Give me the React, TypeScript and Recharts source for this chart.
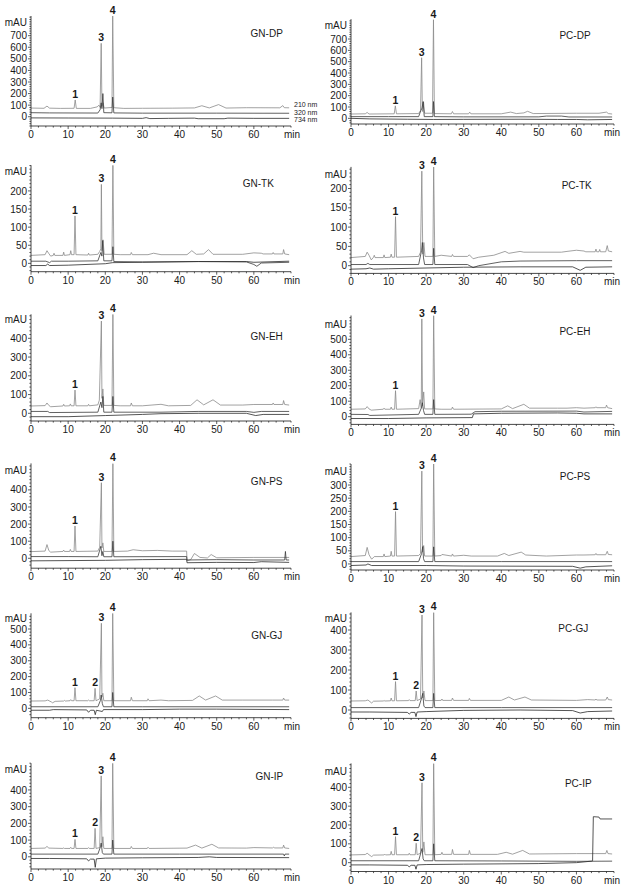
import React from 'react';
import { LineChart, Line, XAxis, YAxis, ReferenceDot } from 'recharts';

type Pt = [number, number];
type Peak = [string, number, number];

// ---------- GN-DP ----------
const gnDp210: Pt[] = [[0,75],[3.5,73],[4.3,92],[5,74],[8,72],[11.6,73],[11.9,145],[12.2,72],[16,72],[17.8,85],[18.3,100],[18.6,80],[18.9,634],[19.1,90],[19.4,120],[19.7,75],[21.8,80],[22.0,870],[22.3,78],[25,72],[30,73],[38,74],[44,76],[46,95],[48,76],[50.5,105],[52.5,75],[58,78],[67,77],[67.8,96],[68.2,78],[69.5,77]];
const gnDp320: Pt[] = [[0,35],[5,33],[18,32],[18.6,60],[18.9,120],[19.1,70],[19.35,200],[19.6,35],[21.8,34],[22.0,170],[22.3,33],[30,31],[50,31],[69.5,30]];
const gnDp734: Pt[] = [[0,-10],[10,-11],[22,-12],[30,-14],[31,-8],[32,-16],[37,-14],[44,-12],[45,-17],[52,-17],[53,-12],[60,-14],[69.5,-14]];
const gnDpPeaks: Peak[] = [['1',11.9,145],['3',18.9,634],['4',22.0,870]];
const gnDpYTicks = [0,100,200,300,400,500,600,700];

// ---------- PC-DP ----------
const pcDp210: Pt[] = [[0,38],[3.8,40],[4.3,52],[4.8,38],[11.5,40],[11.8,110],[12.1,40],[18,42],[18.5,70],[18.8,535],[19.0,60],[19.3,145],[19.6,45],[21.7,45],[21.95,871],[22.2,42],[26.7,40],[27,60],[27.3,40],[31.3,40],[31.6,55],[31.9,40],[40,40],[42.5,55],[44,42],[46,48],[47,62],[48.5,42],[60,45],[66,45],[68,55],[68.5,42],[69.5,38]];
const pcDp320: Pt[] = [[0,15],[10,15],[18,15],[18.6,70],[18.9,90],[19.2,148],[19.5,15],[21.8,15],[21.95,148],[22.2,15],[30,13],[50,13],[52,20],[56,20],[58,12],[69.5,12]];
const pcDp734: Pt[] = [[0,0],[5,-5],[15,-8],[22,-10],[30,-9],[45,-8],[55,-10],[60,-10],[63,-13],[69.5,-10]];
const pcDpPeaks: Peak[] = [['1',11.8,110],['3',18.8,535],['4',21.95,871]];
const pcDpYTicks = [0,100,200,300,400,500,600,700];

// ---------- GN-TK ----------
const gnTk210: Pt[] = [[0,22],[3.8,24],[4.3,35],[4.8,27],[5.3,20],[6,22],[6.2,28],[6.4,22],[8.6,22],[8.8,31],[9,22],[10.5,24],[10.7,35],[10.9,24],[11.6,24],[11.85,131],[12.1,24],[15.3,23],[15.5,28],[15.7,23],[18,25],[18.5,33],[18.8,40],[18.95,218],[19.1,35],[19.4,65],[19.7,25],[21.8,25],[22.05,271],[22.3,25],[24,24],[26.8,24],[27,30],[27.3,24],[31.5,24],[33,28],[35,24],[42,24],[43.3,35],[44.5,25],[46.5,26],[47.8,38],[49,25],[57,25],[60,29],[62,28],[62.5,26],[65,26],[65.2,30],[65.4,26],[67.8,26],[68,38],[68.3,26],[69.5,24]];
const gnTk320: Pt[] = [[0,6],[4,6],[5,2],[5.5,6],[10,6],[18,7],[18.8,30],[19.1,20],[19.3,63],[19.6,7],[21.8,7],[22.05,46],[22.3,5],[30,4],[45,5],[58,4],[60,-3],[60.8,-8],[62,1],[69.5,3]];
const gnTk734: Pt[] = [[0,-6],[4,-6],[4.5,-2],[5,-6],[10,-5],[20,-1],[22,2],[30,3],[45,5],[58,5],[60,3],[69.5,6]];
const gnTkPeaks: Peak[] = [['1',11.85,131],['3',18.95,218],['4',22.05,271]];
const gnTkYTicks = [0,50,100,150,200];

// ---------- PC-TK ----------
const pcTk210: Pt[] = [[0,21],[3.8,24],[4.3,35],[4.8,27],[5.4,15],[6,22],[6.2,27],[6.4,21],[8.6,21],[8.8,28],[9,21],[10.5,22],[10.7,30],[10.9,22],[11.6,22],[11.85,127],[12.1,22],[18,24],[18.5,35],[18.85,245],[19.1,30],[19.4,60],[19.7,24],[21.8,24],[22.0,256],[22.3,24],[24,27],[26.8,24],[27,29],[27.3,24],[31,24],[31.5,28],[32.5,18],[34,22],[38,27],[41,37],[42,32],[45,37],[46,35],[56,35],[57.5,37],[60,40],[62,38],[62.5,36],[65,36],[65.2,43],[65.4,36],[66,36],[66.2,42],[66.4,36],[67.8,36],[68.2,52],[68.5,38],[69.5,36]];
const pcTk320: Pt[] = [[0,3],[4,3],[4.5,6],[5,3],[18,3],[18.8,40],[19.0,60],[19.3,20],[19.6,3],[21.8,3],[22.0,45],[22.3,3],[31,3],[32.5,-5],[34,0],[40,10],[45,12],[60,13],[69.5,13]];
const pcTk734: Pt[] = [[0,-9],[4,-8],[5,-6],[6,-9],[10,-8],[30,-4],[45,-3],[59,-3],[61,-12],[62.5,-4],[69.5,-3]];
const pcTkPeaks: Peak[] = [['1',11.85,127],['3',18.85,245],['4',22.0,256]];
const pcTkYTicks = [0,50,100,150,200];

// ---------- GN-EH ----------
const gnEh210: Pt[] = [[0,39],[3.8,41],[4.3,55],[4.8,42],[5.3,35],[8.6,39],[8.8,48],[9,39],[10.4,40],[10.6,50],[10.8,40],[11.6,40],[11.85,124],[12.1,40],[15.3,40],[15.5,48],[15.7,40],[18,45],[18.4,70],[18.95,492],[19.1,80],[19.35,130],[19.6,42],[21.8,42],[22.05,528],[22.3,42],[24,40],[26.8,40],[27,55],[27.3,40],[30,40],[35,48],[37,40],[43,42],[44.7,72],[46.5,45],[49,72],[51,44],[57,44],[60,47],[65,47],[65.2,55],[65.4,47],[67.8,47],[68,68],[68.3,47],[69.5,44]];
const gnEh320: Pt[] = [[0,10],[4.5,10],[5,4],[18,6],[18.8,60],[19.1,30],[19.35,90],[19.6,6],[21.8,6],[22.05,90],[22.3,6],[35,6],[45,10],[58,10],[60,5],[62,10],[69.5,10]];
const gnEh734: Pt[] = [[0,-18],[10,-18],[20,-12],[30,-6],[35,-2],[45,0],[58,0],[60.5,-12],[62.5,-6],[69.5,-6]];
const gnEhPeaks: Peak[] = [['1',11.85,124],['3',18.95,492],['4',22.05,528]];
const gnEhYTicks = [0,100,200,300,400];

// ---------- PC-EH ----------
const pcEh210: Pt[] = [[0,48],[3.8,50],[4.3,65],[4.8,50],[5.4,42],[8.6,48],[8.8,55],[9,48],[10.5,48],[10.7,62],[10.9,48],[11.6,48],[11.85,168],[12.1,48],[18,52],[18.4,110],[18.7,55],[18.85,632],[19.05,70],[19.35,160],[19.6,50],[21.8,50],[22.0,654],[22.3,50],[24,48],[26.8,48],[27,62],[27.3,48],[40,50],[41.7,70],[43,52],[46,80],[47.5,55],[55,55],[57.5,55],[60,58],[62,55],[65,58],[65.2,64],[65.4,58],[67.8,58],[68,75],[68.3,58],[69.5,52]];
const pcEh320: Pt[] = [[0,15],[4.5,14],[5,8],[18,15],[18.8,60],[19.0,90],[19.3,40],[19.6,15],[21.8,15],[22.0,110],[22.3,15],[32,16],[33,32],[40,35],[60,36],[62,30],[69.5,34]];
const pcEh734: Pt[] = [[0,-12],[10,-12],[20,-8],[32.3,-6],[32.6,18],[40,22],[55,24],[60,22],[62,18],[69.5,18]];
const pcEhPeaks: Peak[] = [['1',11.85,168],['3',18.85,632],['4',22.0,654]];
const pcEhYTicks = [0,100,200,300,400,500];

// ---------- GN-PS ----------
const gnPs210: Pt[] = [[0,39],[3.8,42],[4.3,80],[4.8,45],[5.3,36],[8.6,40],[8.8,48],[9,40],[10.4,40],[10.6,52],[10.8,40],[11.6,40],[11.85,189],[12.1,40],[18,42],[18.5,65],[18.95,442],[19.1,60],[19.35,90],[19.6,40],[21.8,40],[22.05,555],[22.3,40],[26,42],[27.5,50],[30,44],[34,46],[38,42],[41.9,42],[42,-15],[43,-8],[44,28],[45.5,5],[47.5,2],[48.5,22],[50,3],[60,5],[69.5,5]];
const gnPs320: Pt[] = [[0,10],[10,10],[18,9],[18.8,70],[19.1,15],[19.35,40],[19.6,9],[21.8,9],[22.05,100],[22.3,9],[41.9,10],[42,-10],[50,-8],[60,-10],[68.3,-10],[68.5,40],[68.7,-10],[69.5,-10]];
const gnPs734: Pt[] = [[0,-15],[20,-12],[30,-8],[41.9,-6],[42,-26],[50,-24],[60,-25],[62,-20],[69.5,-24]];
const gnPsPeaks: Peak[] = [['1',11.85,189],['3',18.95,442],['4',22.05,555]];
const gnPsYTicks = [0,100,200,300,400];

// ---------- PC-PS ----------
const pcPs210: Pt[] = [[0,28],[3.8,32],[4.3,63],[4.8,35],[5.5,18],[6.2,28],[8.6,28],[8.8,38],[9,28],[10.5,30],[10.7,48],[10.9,30],[11.6,30],[11.85,199],[12.1,30],[18,32],[18.5,40],[18.85,353],[19.05,45],[19.35,70],[19.6,30],[21.8,30],[22.0,380],[22.3,30],[24,32],[24.2,36],[26.8,30],[27,38],[27.3,30],[30,33],[32,30],[39,30],[40.8,40],[42,32],[45.3,45],[46.5,34],[52,30],[60,34],[62,34],[65,35],[65.2,40],[65.4,35],[67.8,35],[68.2,48],[68.5,36],[69.5,35]];
const pcPs320: Pt[] = [[0,9],[18,9],[18.8,40],[19.1,66],[19.3,20],[19.6,9],[21.8,9],[22.0,65],[22.3,9],[40,9],[69.5,9]];
const pcPs734: Pt[] = [[0,-6],[4,-4],[4.5,0],[5.5,-6],[20,-6],[30,-8],[59,-9],[61,-16],[62.5,-11],[69.5,-7]];
const pcPsPeaks: Peak[] = [['1',11.85,199],['3',18.85,353],['4',22.0,380]];
const pcPsYTicks = [0,50,100,150,200,250,300];

// ---------- GN-GJ ----------
const gnGj210: Pt[] = [[0,46],[3.8,47],[4.5,52],[5.5,40],[5.8,35],[6.5,44],[8.8,46],[9,50],[9.2,46],[10.5,48],[10.7,55],[10.9,48],[11.6,48],[11.85,130],[12.1,48],[15.3,48],[15.5,52],[15.7,48],[17.0,48],[17.25,126],[17.5,48],[18.5,60],[18.95,536],[19.1,70],[19.35,95],[19.6,48],[21.8,48],[22.0,599],[22.3,48],[26.8,48],[27,70],[27.3,48],[31.3,48],[31.5,60],[31.8,48],[35,52],[37,48],[43.5,50],[45.3,78],[47,52],[49.7,78],[51.5,52],[57,52],[65,52],[67.8,52],[68,65],[68.3,52],[69.5,52]];
const gnGj320: Pt[] = [[0,10],[18,10],[18.7,50],[18.9,84],[19.2,30],[19.5,10],[21.8,10],[22.0,100],[22.3,10],[30,10],[69.5,10]];
const gnGj734: Pt[] = [[0,-12],[5,-12],[6,-8],[15,-10],[15.5,-25],[16,-12],[17,-12],[17.3,-40],[17.6,-12],[19.2,-20],[19.5,-8],[30,-8],[40,-5],[50,-5],[69.5,-8]];
const gnGjPeaks: Peak[] = [['1',11.85,130],['2',17.25,126],['3',18.95,536],['4',22.0,599]];
const gnGjYTicks = [0,100,200,300,400,500];

// ---------- PC-GJ ----------
const pcGj210: Pt[] = [[0,45],[3.8,46],[4.5,50],[5.5,35],[6,44],[8.6,45],[8.8,48],[9,45],[10.5,46],[10.7,60],[10.9,46],[11.6,46],[11.85,142],[12.1,46],[15.3,47],[15.5,52],[15.7,47],[17.1,47],[17.35,95],[17.6,47],[18.5,55],[18.9,475],[19.1,60],[19.4,95],[19.7,47],[21.8,47],[22.0,488],[22.3,47],[24,48],[24.2,55],[24.4,48],[26.8,48],[27,60],[27.3,48],[31.3,48],[31.5,58],[31.8,48],[40,48],[42,65],[43.5,50],[46.3,65],[48,50],[60,48],[63,52],[65,50],[65.2,55],[65.4,50],[67.8,50],[68.2,65],[68.5,52],[69.5,50]];
const pcGj320: Pt[] = [[0,12],[18,12],[18.8,60],[19.1,83],[19.4,20],[19.7,12],[21.8,12],[22.0,83],[22.3,12],[40,12],[69.5,12]];
const pcGj734: Pt[] = [[0,-10],[5,-10],[15,-12],[15.5,-20],[16,-12],[17,-12],[17.3,-33],[17.6,-10],[20,-8],[30,-2],[45,0],[59,-3],[61,-15],[63,-8],[69.5,-5]];
const pcGjPeaks: Peak[] = [['1',11.85,142],['2',17.35,95],['3',18.9,475],['4',22.0,488]];
const pcGjYTicks = [0,100,200,300,400];

// ---------- GN-IP ----------
const gnIp210: Pt[] = [[0,50],[3.8,52],[4.3,62],[4.8,52],[8.6,50],[8.8,53],[9,50],[10.5,50],[10.7,57],[10.9,50],[11.6,50],[11.85,104],[12.1,50],[15.3,50],[15.5,55],[15.7,50],[17.0,50],[17.25,170],[17.5,50],[18.5,55],[18.9,484],[19.1,60],[19.35,120],[19.6,50],[21.8,50],[22.0,560],[22.3,50],[26.8,50],[27,62],[27.3,50],[31.3,50],[31.5,57],[31.8,50],[42,52],[44.3,70],[46,52],[48.7,75],[50.5,53],[58,52],[60,55],[65,53],[65.3,58],[65.5,53],[67.8,53],[68,70],[68.3,53],[69.5,50]];
const gnIp320: Pt[] = [[0,16],[18,16],[18.7,60],[18.9,82],[19.2,25],[19.5,16],[21.8,16],[22.0,100],[22.3,16],[40,16],[68,16],[68.2,5],[68.4,16],[69.5,16]];
const gnIp734: Pt[] = [[0,-10],[5,-10],[15,-12],[15.5,-25],[16,-14],[17,-14],[17.3,-63],[17.6,-12],[20,-8],[30,-6],[45,-4],[48,0],[50,-4],[69.5,-5]];
const gnIpPeaks: Peak[] = [['1',11.85,104],['2',17.25,170],['3',18.9,484],['4',22.0,560]];
const gnIpYTicks = [0,100,200,300,400];

// ---------- PC-IP ----------
const pcIp210: Pt[] = [[0,41],[3.8,43],[4.3,50],[4.8,42],[5.5,32],[6,40],[8.8,41],[9,45],[9.2,41],[10.5,42],[10.7,60],[10.9,42],[11.6,42],[11.85,138],[12.1,42],[15.3,42],[15.5,50],[15.7,42],[17.1,42],[17.35,103],[17.6,42],[18.5,50],[18.9,424],[19.1,55],[19.4,110],[19.7,42],[21.8,42],[22.0,527],[22.3,42],[24,44],[24.2,55],[24.4,44],[26.8,44],[27,70],[27.3,44],[31.3,44],[31.5,65],[31.8,44],[39,44],[41.3,55],[43,45],[45.7,65],[47.5,46],[60,48],[65,48],[67.8,48],[68.1,65],[68.4,48],[69.5,46]];
const pcIp320: Pt[] = [[0,10],[18,10],[18.7,60],[18.9,75],[19.2,20],[19.5,10],[21.8,10],[22.0,100],[22.3,10],[40,9],[60,7],[69.5,8]];
const pcIp734: Pt[] = [[0,-12],[5,-12],[15,-14],[15.5,-22],[16,-14],[17,-14],[17.3,-35],[17.6,-12],[20,-10],[30,-8],[50,-5],[60,0],[64,8],[64.3,10],[64.5,244],[66,242],[66.3,232],[69.5,232]];
const pcIpPeaks: Peak[] = [['1',11.85,138],['2',17.35,103],['3',18.9,424],['4',22.0,527]];
const pcIpYTicks = [0,100,200,300,400];

const xMajorTicks = [0, 10, 20, 30, 40, 50, 60];
const wavelengths = ['210 nm', '320 nm', '734 nm'];

interface PanelCfg {
  name: string;
  col: 0 | 1;
  plotTop: number;
  plotBottom: number;
  mauY: number;
  titleX: number;
  titleY: number;
  yDomain: [number, number];
  yMajor: number[];
  yMinorStep: number;
  s210: Pt[];
  s320: Pt[];
  s734: Pt[];
  peaks: Peak[];
  showWl?: boolean;
}

const panels: PanelCfg[] = [
  { name: 'GN-DP', col: 0, plotTop: 16, plotBottom: 126, mauY: 22.7, titleX: 266.7, titleY: 33.3, yDomain: [-80, 870], yMajor: gnDpYTicks, yMinorStep: 20, s210: gnDp210, s320: gnDp320, s734: gnDp734, peaks: gnDpPeaks, showWl: true },
  { name: 'PC-DP', col: 1, plotTop: 19.2, plotBottom: 124, mauY: 25, titleX: 575, titleY: 35, yDomain: [-50, 875], yMajor: pcDpYTicks, yMinorStep: 20, s210: pcDp210, s320: pcDp320, s734: pcDp734, peaks: pcDpPeaks },
  { name: 'GN-TK', col: 0, plotTop: 165.2, plotBottom: 271.7, mauY: 171.7, titleX: 258.3, titleY: 183.3, yDomain: [-23, 271], yMajor: gnTkYTicks, yMinorStep: 10, s210: gnTk210, s320: gnTk320, s734: gnTk734, peaks: gnTkPeaks },
  { name: 'PC-TK', col: 1, plotTop: 166.9, plotBottom: 273.4, mauY: 174.3, titleX: 576.7, titleY: 185, yDomain: [-20, 256], yMajor: pcTkYTicks, yMinorStep: 10, s210: pcTk210, s320: pcTk320, s734: pcTk734, peaks: pcTkPeaks },
  { name: 'GN-EH', col: 0, plotTop: 314.3, plotBottom: 421, mauY: 319.3, titleX: 266.7, titleY: 336.7, yDomain: [-41, 528], yMajor: gnEhYTicks, yMinorStep: 20, s210: gnEh210, s320: gnEh320, s734: gnEh734, peaks: gnEhPeaks },
  { name: 'PC-EH', col: 1, plotTop: 315.5, plotBottom: 424.4, mauY: 324.3, titleX: 575, titleY: 331.7, yDomain: [-50, 654], yMajor: pcEhYTicks, yMinorStep: 20, s210: pcEh210, s320: pcEh320, s734: pcEh734, peaks: pcEhPeaks },
  { name: 'GN-PS', col: 0, plotTop: 463.4, plotBottom: 568.2, mauY: 470, titleX: 266.7, titleY: 481.7, yDomain: [-58, 555], yMajor: gnPsYTicks, yMinorStep: 20, s210: gnPs210, s320: gnPs320, s734: gnPs734, peaks: gnPsPeaks },
  { name: 'PC-PS', col: 1, plotTop: 464, plotBottom: 570, mauY: 471.7, titleX: 575, titleY: 476.7, yDomain: [-23, 380], yMajor: pcPsYTicks, yMinorStep: 10, s210: pcPs210, s320: pcPs320, s734: pcPs734, peaks: pcPsPeaks },
  { name: 'GN-GJ', col: 0, plotTop: 613.3, plotBottom: 717.7, mauY: 618.3, titleX: 266.7, titleY: 635, yDomain: [-59, 599], yMajor: gnGjYTicks, yMinorStep: 20, s210: gnGj210, s320: gnGj320, s734: gnGj734, peaks: gnGjPeaks },
  { name: 'PC-GJ', col: 1, plotTop: 612.4, plotBottom: 718.4, mauY: 618.3, titleX: 573.3, titleY: 628.3, yDomain: [-42, 488], yMajor: pcGjYTicks, yMinorStep: 20, s210: pcGj210, s320: pcGj320, s734: pcGj734, peaks: pcGjPeaks },
  { name: 'GN-IP', col: 0, plotTop: 763.2, plotBottom: 869, mauY: 769.3, titleX: 269.3, titleY: 776.7, yDomain: [-73, 560], yMajor: gnIpYTicks, yMinorStep: 20, s210: gnIp210, s320: gnIp320, s734: gnIp734, peaks: gnIpPeaks },
  { name: 'PC-IP', col: 1, plotTop: 763.4, plotBottom: 871.5, mauY: 771.7, titleX: 578.3, titleY: 783.3, yDomain: [-47, 527], yMajor: pcIpYTicks, yMinorStep: 20, s210: pcIp210, s320: pcIp320, s734: pcIp734, peaks: pcIpPeaks },
];

const FONT = '"Liberation Sans", Arial, Helvetica, sans-serif';
const INK = '#1a1a1a';
const FS = 10;
const toRows = (pts: Pt[]) => pts.map(([t, v]) => ({ t, v }));

const YTick = (props: any) => {
  const { x, y, payload, majors } = props;
  const isMajor = majors.includes(payload.value);
  return (
    <g>
      <line x1={x - (isMajor ? 3 : 1.6)} y1={y} x2={x} y2={y} stroke={INK} strokeWidth={0.7} />
      {isMajor && (
        <text x={x - 4} y={y + 3.6} textAnchor="end" fontSize={FS} fontFamily={FONT} fill={INK}>
          {payload.value}
        </text>
      )}
    </g>
  );
};

const XTick = (props: any) => {
  const { x, y, payload } = props;
  const isMajor = xMajorTicks.includes(payload.value);
  return (
    <g>
      <line x1={x} y1={y} x2={x} y2={y + (isMajor ? 3 : 1.6)} stroke={INK} strokeWidth={0.7} />
      {isMajor && (
        <text x={x} y={y + 12} textAnchor="middle" fontSize={FS} fontFamily={FONT} fill={INK}>
          {payload.value}
        </text>
      )}
    </g>
  );
};

function Panel({ cfg }: { cfg: PanelCfg }) {
  const colLeft = cfg.col === 0 ? 0 : 315;
  const width = cfg.col === 0 ? 315 : 316;
  const axisX = cfg.col === 0 ? 31 : 351;
  const plotRight = cfg.col === 0 ? 291 : 614;
  const top = Math.floor(cfg.plotTop - 18);
  const height = Math.ceil(cfg.plotBottom - top + 22);
  const yAxisW = axisX - colLeft;
  const marginRight = colLeft + width - plotRight;
  const marginTop = cfg.plotTop - top;
  const marginBottom = height - 20 - (cfg.plotBottom - top);

  const yTicks: number[] = [];
  const start = Math.ceil(cfg.yDomain[0] / cfg.yMinorStep) * cfg.yMinorStep;
  for (let v = start; v <= cfg.yDomain[1]; v += cfg.yMinorStep) yTicks.push(v);
  const xTicks: number[] = [];
  for (let v = 0; v <= 70; v += 2) xTicks.push(v);

  return (
    <div style={{ position: 'absolute', left: colLeft, top, width, height }}>
      <LineChart width={width} height={height} margin={{ top: marginTop, right: marginRight, bottom: marginBottom, left: 0 }}>
        <XAxis
          type="number"
          dataKey="t"
          domain={[0, 70]}
          ticks={xTicks}
          interval={0}
          tick={<XTick />}
          tickLine={false}
          tickSize={0}
          tickMargin={0}
          height={20}
          axisLine={{ stroke: INK, strokeWidth: 0.8 }}
          allowDataOverflow
        />
        <YAxis
          type="number"
          domain={cfg.yDomain}
          ticks={yTicks}
          interval={0}
          tick={<YTick majors={cfg.yMajor} />}
          tickLine={false}
          tickSize={0}
          tickMargin={0}
          width={yAxisW}
          axisLine={{ stroke: INK, strokeWidth: 0.8 }}
          allowDataOverflow
        />
        <Line data={toRows(cfg.s210)} dataKey="v" type="linear" stroke="#8a8a8a" strokeWidth={0.8} dot={false} isAnimationActive={false} />
        <Line data={toRows(cfg.s320)} dataKey="v" type="linear" stroke="#3a3a3a" strokeWidth={0.8} dot={false} isAnimationActive={false} />
        <Line data={toRows(cfg.s734)} dataKey="v" type="linear" stroke="#2a2a2a" strokeWidth={0.8} dot={false} isAnimationActive={false} />
        {cfg.peaks.map((p) => (
          <ReferenceDot
            key={p[0]}
            x={p[1]}
            y={p[2]}
            r={0}
            fill="none"
            stroke="none"
            ifOverflow="visible"
            label={{ value: p[0], position: 'top', offset: 2, fontSize: 10.5, fontWeight: 'bold', fill: INK, fontFamily: FONT }}
          />
        ))}
      </LineChart>
      <svg
        width={width}
        height={height}
        style={{ position: 'absolute', left: 0, top: 0, overflow: 'visible', pointerEvents: 'none' }}
      >
        <text x={axisX - 4 - colLeft} y={cfg.mauY + 3.6 - top} textAnchor="end" fontSize={FS} fontFamily={FONT} fill={INK}>
          mAU
        </text>
        <text x={cfg.titleX - colLeft} y={cfg.titleY + 3.6 - top} textAnchor="middle" fontSize={10} fontFamily={FONT} fill={INK}>
          {cfg.name}
        </text>
        <text x={axisX + 261 - colLeft} y={cfg.plotBottom + 12 - top} textAnchor="middle" fontSize={FS} fontFamily={FONT} fill={INK}>
          min
        </text>
        {cfg.showWl &&
          wavelengths.map((w, i) => (
            <text key={w} x={294 - colLeft} y={[106.5, 115, 121.5][i] - top} fontSize={7} fontFamily={FONT} fill={INK}>
              {w}
            </text>
          ))}
      </svg>
    </div>
  );
}

export default function App() {
  return (
    <div style={{ position: 'absolute', left: 0, top: 0, width: 631, height: 884, background: '#fff', overflow: 'hidden' }}>
      {panels.map((p) => (
        <Panel key={p.name} cfg={p} />
      ))}
    </div>
  );
}
